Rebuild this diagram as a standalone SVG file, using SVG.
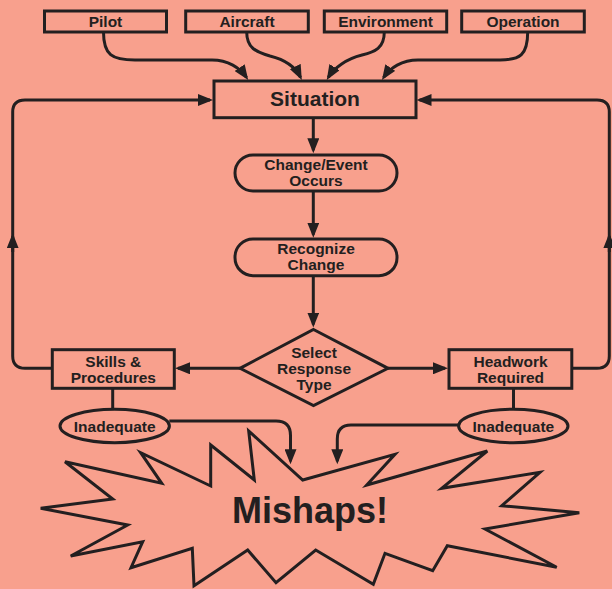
<svg xmlns="http://www.w3.org/2000/svg" width="612" height="589" viewBox="0 0 612 589">
<style>
.bg{fill:#F8A08D}
.shape{fill:none;stroke:#231F20;stroke-width:3}
.ln{fill:none;stroke:#231F20;stroke-width:3;marker-end:url(#arr)}
.plain{fill:none;stroke:#231F20;stroke-width:3}
text{font-family:"Liberation Sans",Arial,sans-serif;font-weight:bold;fill:#231F20;text-anchor:middle}
.t{font-size:15.5px}
.big{font-size:21px}
.huge{font-size:36px}
</style>
<defs>
<marker id="arr" markerUnits="userSpaceOnUse" markerWidth="16" markerHeight="12" refX="12" refY="6" orient="auto" viewBox="0 0 16 12">
<path d="M0,0 L15,6 L0,12 z" fill="#231F20"/>
</marker>
</defs>
<rect class="bg" x="0" y="0" width="612" height="589"/>

<g id="connectors">
<path class="ln" d="M103.5,32 C103.5,55 112,60 135,60 L212,60 C228,60 240,68 246.5,77.5"/>
<path class="ln" d="M246.7,32 C246.7,48 256,52 270,56 C286,60 296,68 300.5,77.3"/>
<path class="ln" d="M384.3,32 C384.3,48 375,52 362,55 C346,59 334,68 328.3,77.4"/>
<path class="ln" d="M527.7,32 C527.7,55 520,60 500,60 L418,60 C402,60 390,68 383.6,77.5"/>
<path class="ln" d="M313.3,118 L313.3,150.3"/>
<path class="ln" d="M313.3,191 L313.3,234.7"/>
<path class="ln" d="M313.3,275.7 L313.3,324.5"/>
<path class="ln" d="M240,368.3 L178,368.3"/>
<path class="ln" d="M388,368.3 L445,368.3"/>
<path class="ln" d="M52.3,368.3 L25,368.3 Q12.7,368.3 12.7,356 L12.7,112 Q12.7,100 25,100 L210,100"/>
<path class="ln" d="M12.7,252 L12.7,236.3"/>
<path class="ln" d="M572,368.3 L597,368.3 Q609.3,368.3 609.3,356 L609.3,112 Q609.3,100 597,100 L419.5,100"/>
<path class="ln" d="M609.3,252 L609.3,236.3"/>
<path class="plain" d="M112.7,388.3 L112.7,409.3"/>
<path class="plain" d="M513.5,388.3 L513.5,409.3"/>
<path class="ln" d="M169.3,421 L276,421 Q290.5,421 290.5,435.5 L290.5,461.3"/>
<path class="ln" d="M458.6,425 L351,425 Q337.3,425 337.3,439 L337.3,461.3"/>
</g>

<g id="pilot">
<rect class="shape" x="44.5" y="11" width="122" height="21"/>
<text class="t" x="105.5" y="26.7">Pilot</text>
</g>
<g id="aircraft">
<rect class="shape" x="185.7" y="11" width="122.6" height="21"/>
<text class="t" x="247" y="26.7">Aircraft</text>
</g>
<g id="environment">
<rect class="shape" x="324.3" y="11" width="122.4" height="21"/>
<text class="t" x="385.5" y="26.7">Environment</text>
</g>
<g id="operation">
<rect class="shape" x="461.7" y="11" width="122.6" height="21"/>
<text class="t" x="523" y="26.7">Operation</text>
</g>
<g id="situation">
<rect class="shape" x="214" y="81" width="202" height="36.7"/>
<text class="big" x="315" y="106">Situation</text>
</g>
<g id="change-event">
<rect class="shape" x="235" y="155" width="162" height="36" rx="18" ry="18"/>
<text class="t" x="316" y="170">Change/Event</text>
<text class="t" x="316" y="186">Occurs</text>
</g>
<g id="recognize">
<rect class="shape" x="235" y="239" width="162" height="36.7" rx="18" ry="18"/>
<text class="t" x="316" y="254">Recognize</text>
<text class="t" x="316" y="270">Change</text>
</g>
<g id="select">
<polygon class="shape" points="313.5,329.5 388,368.3 313.5,405.5 240,368.3"/>
<text class="t" x="314" y="358.3">Select</text>
<text class="t" x="314" y="374.3">Response</text>
<text class="t" x="314" y="390">Type</text>
</g>
<g id="skills">
<rect class="shape" x="52.3" y="349.7" width="122" height="38.6"/>
<text class="t" x="113.3" y="366.7">Skills &amp;</text>
<text class="t" x="113.3" y="382.7">Procedures</text>
</g>
<g id="headwork">
<rect class="shape" x="449" y="349.7" width="122.8" height="38.6"/>
<text class="t" x="510.5" y="366.7">Headwork</text>
<text class="t" x="510.5" y="382.5">Required</text>
</g>
<g id="inadequate-left">
<ellipse class="shape" cx="114.7" cy="426" rx="54.7" ry="16.7"/>
<text class="t" x="114.7" y="431.7">Inadequate</text>
</g>
<g id="inadequate-right">
<ellipse class="shape" cx="513.3" cy="426" rx="54.7" ry="16.7"/>
<text class="t" x="513.3" y="431.7">Inadequate</text>
</g>
<g id="mishaps">
<polygon class="shape" stroke-linejoin="miter" points="40.7,508.3 112.7,499 65,461.7 161.7,483.3 140.7,452.7 210.7,486 210.7,445 254.3,480 248.7,431 302.7,480 395,454.3 366.7,485 487.3,451 441.7,488.3 540,472.3 501.7,505.7 579.3,512.7 485,529 556.7,567.3 447.3,545.7 432.7,570.7 385,553.3 373.3,584.3 315.7,550 276,582.7 247.7,550 194,585.7 192.3,548.3 131,567.7 142.7,541.7 70.7,556 127.7,525"/>
<text class="huge" x="310" y="523.3">Mishaps!</text>
</g>
</svg>
